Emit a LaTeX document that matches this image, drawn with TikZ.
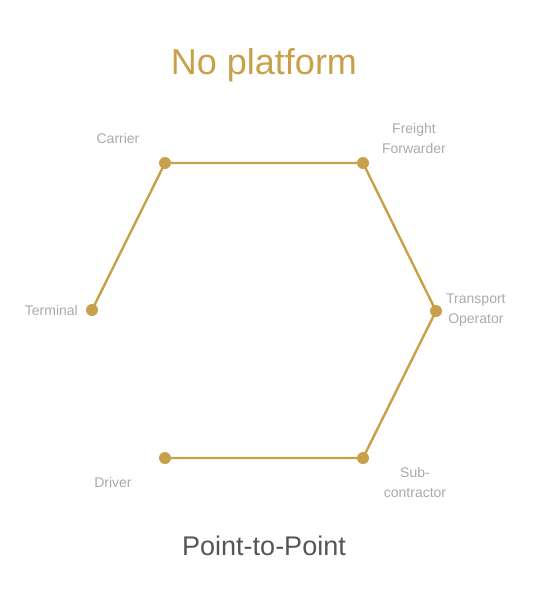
\documentclass[tikz,border=0pt]{standalone}
\usepackage{fontspec}
\setmainfont{Liberation Sans}
\usepackage{tikz}
\usetikzlibrary{positioning}
\definecolor{platgold}{HTML}{C9A04A}
\definecolor{lblgray}{HTML}{AAAAAA}
\definecolor{titlegray}{HTML}{555555}

\begin{document}
\begin{tikzpicture}[x=1pt,y=-1pt,
  party/.style={circle, fill=platgold, inner sep=0pt, minimum size=12pt},
  link/.style={platgold, line width=2.4pt},
  lbl/.style={text=lblgray, font=\fontsize{14}{20}\selectfont, align=center, inner sep=0pt}]
\useasboundingbox (0,0) rectangle (533,606);
% title
\node[text=platgold, font=\fontsize{36}{40}\selectfont] (title) at (264,65) {No platform};
% the six parties
\node[party] (carrier) at (165,163) {};
\node[party] (forwarder) at (363,163) {};
\node[party] (operator) at (436,311) {};
\node[party] (subcon) at (363,458) {};
\node[party] (driver) at (165,458) {};
\node[party] (terminal) at (92,310) {};
% direct links only
\draw[link] (terminal.center) -- (carrier.center) -- (forwarder.center)
  -- (operator.center) -- (subcon.center) -- (driver.center);
% labels
\node[lbl] (carrierlbl) at (118,138) {Carrier};
\node[lbl] (forwarderlbl) at (414,138) {Freight\\Forwarder};
\node[lbl, anchor=west] (operatorlbl) at (446,310) {Transport\\Operator};
\node[lbl] (subconlbl) at (415,482) {Sub-\\contractor};
\node[lbl] (driverlbl) at (113,482) {Driver};
\node[lbl, anchor=east] (terminallbl) at (78,310) {Terminal};
% caption
\node[text=titlegray, font=\fontsize{27}{30}\selectfont] (caption) at (264,546) {Point-to-Point};
\end{tikzpicture}
\end{document}
